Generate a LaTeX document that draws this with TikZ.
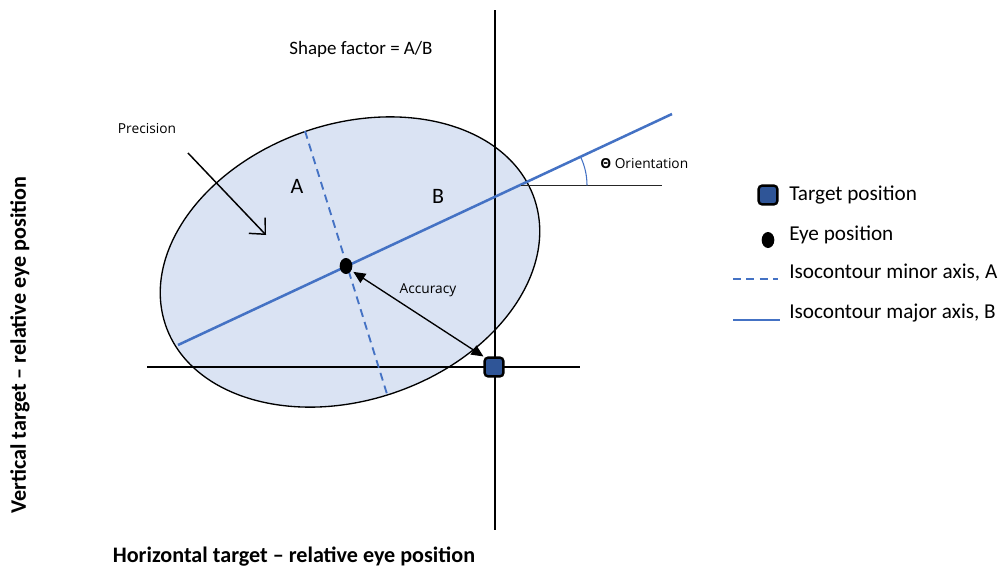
\documentclass[tikz,border=0pt]{standalone}
\usepackage{fontspec}
\setmainfont{Carlito}
\newfontfamily\smallfont{Open Sans}
\usetikzlibrary{arrows.meta,shapes.geometric}
\definecolor{axisblue}{HTML}{4472C4}
\definecolor{ellfill}{HTML}{DAE3F3}
\definecolor{tgtblue}{HTML}{2F5597}
\tikzset{
  axisline/.style={line width=1.9pt, black},
  majorax/.style={line width=1.9pt, axisblue},
  minorax/.style={line width=1.4pt, axisblue, dash pattern=on 6pt off 4pt},
  tgtbox/.style={draw=black, line width=1.8pt, fill=tgtblue, rounded corners=2.5pt, minimum width=14pt, minimum height=14pt, inner sep=0pt},
  eyedot/.style={fill=black, ellipse, minimum width=9.5pt, minimum height=12pt, inner sep=0pt},
  lbl/.style={font=\fontsize{15.9}{19}\selectfont, inner sep=0pt, anchor=west},
  smalllbl/.style={font=\smallfont\fontsize{10.3}{12}\selectfont, inner sep=0pt},
  titlelbl/.style={font=\bfseries\fontsize{16.6}{19}\selectfont, inner sep=0pt},
}
\begin{document}
\begin{tikzpicture}[x=0.75pt,y=-0.75pt]
\useasboundingbox (0,0) rectangle (1004,572);
% ellipse
\draw[fill=ellfill, line width=1pt, rotate around={19:(350,262)}] (350,262) ellipse [x radius=146.2pt, y radius=103.5pt];
% axes
\coordinate (vtop) at (495,10);
\coordinate (vbot) at (495,530);
\coordinate (hl) at (147,367);
\coordinate (hr) at (580,367);
\draw[axisline] (vtop) -- (vbot);
\draw[axisline] (hl) -- (hr);
% major / minor axis
\coordinate (majA) at (178,345);
\coordinate (majB) at (672,114);
\draw[majorax] (majA) -- (majB);
\coordinate (minA) at (305,131);
\coordinate (minB) at (387,394);
\draw[minorax] (minA) -- (minB);
% orientation
\coordinate (ori) at (521,185.3);
\coordinate (oriR) at (662,185.3);
\draw[line width=0.9pt, black!85] (ori) -- (oriR);
\draw[axisblue, line width=0.8pt] ([shift={(0:66)}]ori) arc[start angle=0, end angle=25, radius=49.5pt];
\node[smalllbl, anchor=west] (orilbl) at (600,164) {\textbf{Θ} Orientation};
% eye and target
\node[eyedot] (eye) at (346,266) {};
\node[tgtbox] (tgt) at (494,367) {};
\draw[line width=1pt, {Triangle[length=9pt,width=8pt]}-{Triangle[length=9pt,width=8pt]}] (eye.south east) ++(2pt,0pt) coordinate (accA) (accA) -- (tgt.north west);
\node[smalllbl] (acc) at (428,290) {Accuracy};
% precision
\node[smalllbl] (prec) at (147,129) {Precision};
\coordinate (precA) at (188,153);
\coordinate (precB) at (266,235);
\draw[line width=1.1pt, -{Straight Barb[length=9pt,width=17pt]}] (precA) -- (precB);
% A B
\node[font=\fontsize{16.5}{18}\selectfont] (labA) at (297,186) {A};
\node[font=\fontsize{16.5}{18}\selectfont] (labB) at (438,196) {B};
% shape factor
\node[font=\fontsize{14.2}{16}\selectfont] (sf) at (361,49) {Shape factor = A/B};
% legend
\node[tgtbox] (legT) at (768,195) {};
\node[lbl] (legTt) at (789,195) {Target position};
\node[eyedot] (legE) at (768,240) {};
\node[lbl] (legEt) at (789,235) {Eye position};
\coordinate (legDa) at (733,279);
\coordinate (legDb) at (778,279);
\draw[minorax] (legDa) -- (legDb);
\node[lbl] (legDt) at (789,273) {Isocontour minor axis, A};
\coordinate (legSa) at (733,320);
\coordinate (legSb) at (780,320);
\draw[majorax, line width=1.6pt] (legSa) -- (legSb);
\node[lbl] (legSt) at (789,313) {Isocontour major axis, B};
% axis titles
\node[titlelbl, rotate=90] (ytitle) at (20,345) {Vertical target – relative eye position};
\node[titlelbl] (xtitle) at (294,557) {Horizontal target – relative eye position};
\end{tikzpicture}
\end{document}
